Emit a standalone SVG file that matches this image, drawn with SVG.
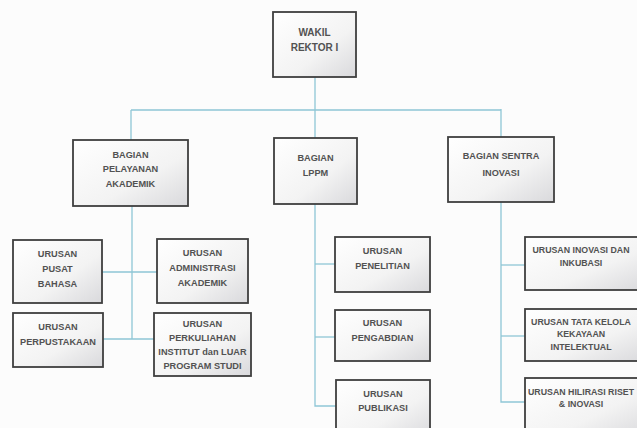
<svg xmlns="http://www.w3.org/2000/svg" width="637" height="428" viewBox="0 0 637 428">
<defs>
<linearGradient id="g" x1="0" y1="0" x2="1" y2="1">
<stop offset="0" stop-color="#ffffff"/>
<stop offset="0.6" stop-color="#f3f3f3"/>
<stop offset="1" stop-color="#d9d9dc"/>
</linearGradient>
</defs>
<style>
.box{fill:url(#g);stroke:#3f3f3f;stroke-width:1.8}
.t{font-family:"Liberation Sans",Arial,sans-serif;font-weight:bold;font-size:9.2px;fill:#525252;text-anchor:middle}
.r{font-size:8.8px}
.t2{font-family:"Liberation Sans",Arial,sans-serif;font-weight:bold;font-size:10px;fill:#525252;text-anchor:middle}
.c{fill:none;stroke:#8ec6d6;stroke-width:1.3}
</style>
<rect width="637" height="428" fill="#fcfcfc"/>
<g id="connectors">
<path class="c" d="M315 77 V109"/>
<path class="c" d="M131 110 H501"/>
<path class="c" d="M131 110 V140"/>
<path class="c" d="M315 109 V138"/>
<path class="c" d="M501 109 V137"/>
<path class="c" d="M132 206 V339"/>
<path class="c" d="M102 272 H157"/>
<path class="c" d="M103 339 H154"/>
<path class="c" d="M315 204 V406 H336"/>
<path class="c" d="M315 264 H335"/>
<path class="c" d="M315 337 H335"/>
<path class="c" d="M501 202 V402 H525"/>
<path class="c" d="M501 265 H525"/>
<path class="c" d="M501 336 H525"/>
</g>
<g id="wakil-rektor">
<rect class="box" x="273" y="12" width="83" height="65"/>
<text class="t2" x="314.5" y="36">WAKIL</text>
<text class="t2" x="314.5" y="51">REKTOR I</text>
</g>
<g id="bagian-pelayanan-akademik">
<rect class="box" x="73" y="140" width="115" height="66"/>
<text class="t" x="130.5" y="158">BAGIAN</text>
<text class="t" x="130.5" y="172">PELAYANAN</text>
<text class="t" x="130.5" y="187">AKADEMIK</text>
</g>
<g id="bagian-lppm">
<rect class="box" x="274" y="138" width="83" height="66"/>
<text class="t" x="315.5" y="161">BAGIAN</text>
<text class="t" x="315.5" y="176">LPPM</text>
</g>
<g id="bagian-sentra-inovasi">
<rect class="box" x="448" y="137" width="106" height="65"/>
<text class="t" x="501" y="159">BAGIAN SENTRA</text>
<text class="t" x="501" y="176">INOVASI</text>
</g>
<g id="urusan-pusat-bahasa">
<rect class="box" x="13" y="240" width="89" height="63"/>
<text class="t" x="57.5" y="257">URUSAN</text>
<text class="t" x="57.5" y="272">PUSAT</text>
<text class="t" x="57.5" y="287">BAHASA</text>
</g>
<g id="urusan-administrasi-akademik">
<rect class="box" x="157" y="239" width="91" height="64"/>
<text class="t" x="202.5" y="256">URUSAN</text>
<text class="t" x="202.5" y="271">ADMINISTRASI</text>
<text class="t" x="202.5" y="286">AKADEMIK</text>
</g>
<g id="urusan-perpustakaan">
<rect class="box" x="13" y="313" width="90" height="54"/>
<text class="t" x="58" y="330">URUSAN</text>
<text class="t" x="58" y="345">PERPUSTAKAAN</text>
</g>
<g id="urusan-perkuliahan">
<rect class="box" x="154" y="313" width="97" height="63"/>
<text class="t" x="202.5" y="327">URUSAN</text>
<text class="t" x="202.5" y="341">PERKULIAHAN</text>
<text class="t" x="202.5" y="355">INSTITUT dan LUAR</text>
<text class="t" x="202.5" y="369">PROGRAM STUDI</text>
</g>
<g id="urusan-penelitian">
<rect class="box" x="335" y="237" width="95" height="55"/>
<text class="t" x="382.5" y="254">URUSAN</text>
<text class="t" x="382.5" y="269">PENELITIAN</text>
</g>
<g id="urusan-pengabdian">
<rect class="box" x="335" y="310" width="95" height="51"/>
<text class="t" x="382.5" y="326">URUSAN</text>
<text class="t" x="382.5" y="341">PENGABDIAN</text>
</g>
<g id="urusan-publikasi">
<rect class="box" x="336" y="380" width="94" height="60"/>
<text class="t" x="383" y="397">URUSAN</text>
<text class="t" x="383" y="411">PUBLIKASI</text>
</g>
<g id="urusan-inovasi-inkubasi">
<rect class="box" x="525" y="237" width="122" height="53"/>
<text class="t r" x="581" y="253">URUSAN INOVASI DAN</text>
<text class="t r" x="581" y="266">INKUBASI</text>
</g>
<g id="urusan-tata-kelola">
<rect class="box" x="525" y="309" width="122" height="52"/>
<text class="t r" x="581" y="325">URUSAN TATA KELOLA</text>
<text class="t r" x="581" y="337">KEKAYAAN</text>
<text class="t r" x="581" y="350">INTELEKTUAL</text>
</g>
<g id="urusan-hilirasi">
<rect class="box" x="525" y="378" width="122" height="60"/>
<text class="t r" x="581" y="395">URUSAN HILIRASI RISET</text>
<text class="t r" x="581" y="407">&amp; INOVASI</text>
</g>
</svg>
